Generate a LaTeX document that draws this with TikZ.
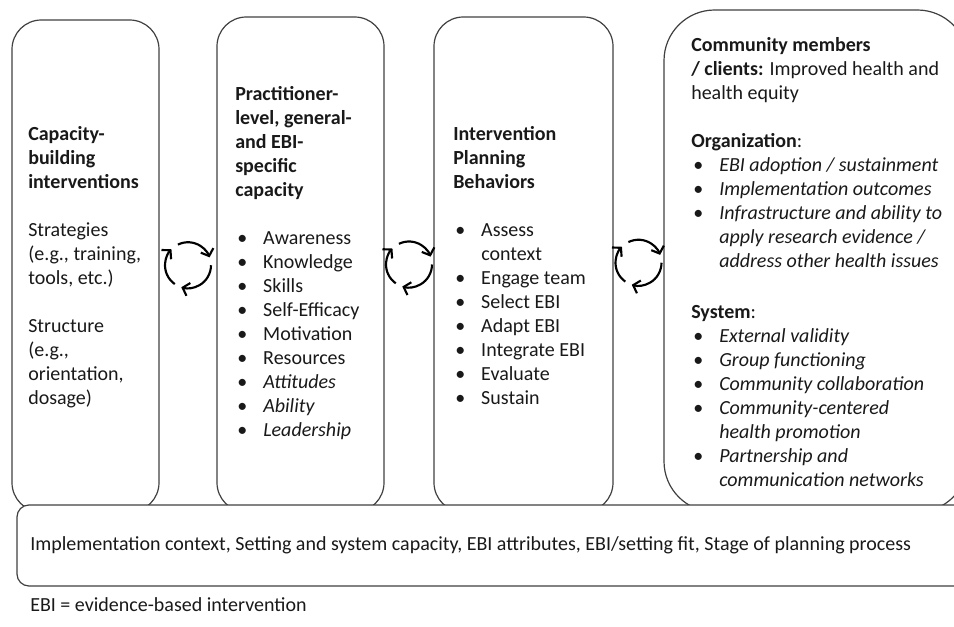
\documentclass[tikz,border=0pt]{standalone}
\usepackage{fontspec}
\setmainfont{Carlito}
\usetikzlibrary{fit}
\usetikzlibrary{arrows.meta}
\usetikzlibrary{calc}

\newcommand{\bul}{\makebox[21pt][l]{\hspace{1.5pt}\textbullet}}
\newcommand{\ind}{\hspace{21pt}}

\tikzset{
  box/.style={draw=black!75, line width=0.9pt, rounded corners=22pt, inner sep=0pt},
  txt/.style={anchor=north west, align=left, inner sep=0pt, text=black!90, font=\fontsize{15pt}{18pt}\selectfont},
  cyclearrow/.style={line width=1.6pt, -{Straight Barb[length=4.5pt,width=10pt]}},
}

\begin{document}
\begin{tikzpicture}[x=0.75pt, y=-0.75pt]
    \useasboundingbox (0,0) rectangle (954,627);

    %%%% columns %%%%

    \node[box, fit={(12,20) (159,512)}] (b1) {};
    \node[box, fit={(217,17) (384,512)}] (b2) {};
    \node[box, fit={(434,17) (613,512)}] (b3) {};
    \node[box, rounded corners=38pt, fit={(664,10) (968,512)}] (b4) {};

    \node[txt] (t1) at (28,126)
    {
        \textbf{Capacity-}\\
        \textbf{building}\\
        \textbf{interventions}\\[18pt]
        Strategies\\
        (e.g., training,\\
        tools, etc.)\\[18pt]
        Structure\\
        (e.g.,\\
        orientation,\\
        dosage)
    };

    \node[txt] (t2) at (235,86)
    {
        \textbf{Practitioner-}\\
        \textbf{level, general-}\\
        \textbf{and EBI-}\\
        \textbf{specific}\\
        \textbf{capacity}\\[18pt]
        \bul Awareness\\
        \bul Knowledge\\
        \bul Skills\\
        \bul Self-Efficacy\\
        \bul Motivation\\
        \bul Resources\\
        \bul \textit{Attitudes}\\
        \bul \textit{Ability}\\
        \bul \textit{Leadership}
    };

    \node[txt] (t3) at (453,126)
    {
        \textbf{Intervention}\\
        \textbf{Planning}\\
        \textbf{Behaviors}\\[18pt]
        \bul Assess\\
        \ind context\\
        \bul Engage team\\
        \bul Select EBI\\
        \bul Adapt EBI\\
        \bul Integrate EBI\\
        \bul Evaluate\\
        \bul Sustain
    };

    \node[txt] (t4) at (691,37)
    {
        \textbf{Community members}\\
        \textbf{/ clients:} Improved health and\\
        health equity\\[18pt]
        \textbf{Organization}:\\
        \bul \textit{EBI adoption / sustainment}\\
        \bul \textit{Implementation outcomes}\\
        \bul \textit{Infrastructure and ability to}\\
        \ind \textit{apply research evidence /}\\
        \ind \textit{address other health issues}\\[20.25pt]
        \textbf{System}:\\
        \bul \textit{External validity}\\
        \bul \textit{Group functioning}\\
        \bul \textit{Community collaboration}\\
        \bul \textit{Community-centered}\\
        \ind \textit{health promotion}\\
        \bul \textit{Partnership and}\\
        \ind \textit{communication networks}
    };

    %%%% cycles between columns %%%%

    \coordinate (c1) at ($(b1.east)!0.5!(b2.west)$);
    \coordinate (c2) at ($(b2.east)!0.5!(b3.west)$);
    \coordinate (c3) at ($(b3.east)!0.5!(b4.west)$);

    \foreach \c in {c1,c2,c3}
    {
        \draw[cyclearrow] (\c) ++(-116:23) arc[start angle=-116, end angle=-20, radius=23];
        \draw[cyclearrow] (\c) ++(0:23) arc[start angle=0, end angle=107, radius=23];
        \draw[cyclearrow] (\c) ++(125:23) arc[start angle=125, end angle=224, radius=23];
    }

    %%%% context bar %%%%

    \node[box, rounded corners=9pt, fill=white, fit={(17,505) (968,586)}] (bb) {};
    \node[txt, anchor=west] (tb) at (30,545)
        {Implementation context, Setting and system capacity, EBI attributes, EBI/setting fit, Stage of planning process};

    \node[txt, anchor=west] (note) at (30,605) {EBI = evidence-based intervention};

\end{tikzpicture}
\end{document}
